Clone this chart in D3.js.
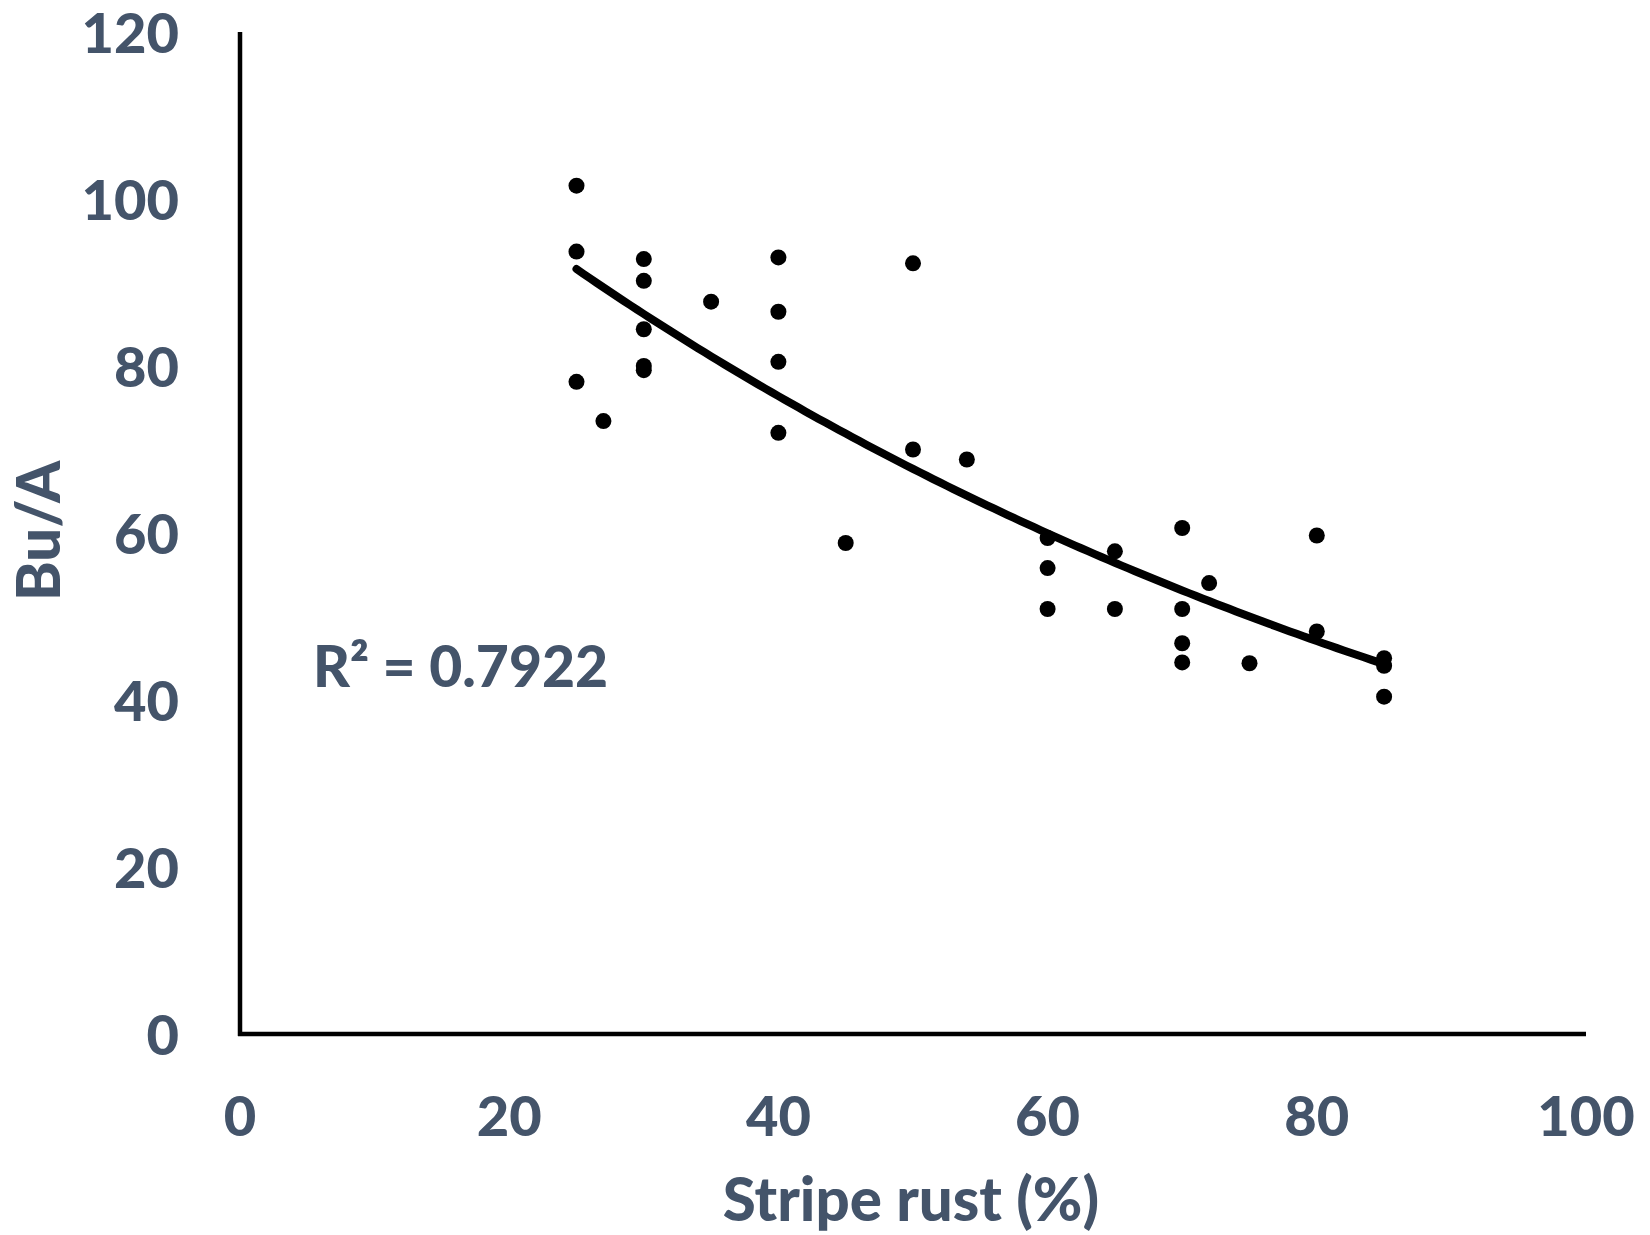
<!DOCTYPE html>
<html>
<head>
<meta charset="utf-8">
<script src="https://cdn.jsdelivr.net/npm/d3@7"></script>
<style>
  html, body { margin: 0; padding: 0; background: #ffffff; }
  svg { display: block; }
  text { font-family: Lato, "Open Sans", sans-serif; font-weight: 900; fill: #44546A; }
</style>
</head>
<body>
<svg id="chart" width="1650" height="1235"></svg>
<script>
// ---- Data ----
const stripeRust = [25, 25, 25, 27, 30, 30, 30, 30, 30, 35, 40, 40, 40, 40, 45, 50, 50, 54,
                    60, 60, 60, 65, 65, 70, 70, 70, 70, 72, 75, 80, 80, 85, 85, 85];
const buPerAcre  = [101.6, 93.7, 78.1, 73.4, 92.8, 90.2, 84.4, 80.0, 79.5, 87.7, 93.0, 86.5, 80.5, 72.0, 58.8, 92.3, 70.0, 68.8,
                    59.4, 55.8, 50.9, 57.8, 50.9, 60.6, 50.9, 46.8, 44.5, 54.0, 44.4, 59.7, 48.2, 45.0, 44.1, 40.4];
const xTicks = [0, 20, 40, 60, 80, 100];
const yTicks = [0, 20, 40, 60, 80, 100, 120];
// exponential trend y = a * exp(b * x), read from the drawn trendline
const trendA = 124.0;
const trendB = -0.01211;
const trendRange = [25, 85];
const rSquaredLabel = "R² = 0.7922";
const xTitle = "Stripe rust (%)";
const yTitle = "Bu/A";

// ---- Layout ----
const svg = d3.select("#chart");
const x = d3.scaleLinear().domain([0, 100]).range([240, 1586]);
const y = d3.scaleLinear().domain([0, 120]).range([1034, 32]);

// Axis lines
svg.append("line")
  .attr("x1", x(0)).attr("x2", x(0))
  .attr("y1", y(120)).attr("y2", y(0) + 2)
  .attr("stroke", "#000").attr("stroke-width", 4.5);
svg.append("line")
  .attr("x1", x(0) - 2).attr("x2", x(100))
  .attr("y1", y(0)).attr("y2", y(0))
  .attr("stroke", "#000").attr("stroke-width", 4.5);

// Y tick labels
svg.append("g").selectAll("text").data(yTicks).join("text")
  .attr("x", 179)
  .attr("y", d => y(d) + 1)
  .attr("dy", "0.36em")
  .attr("text-anchor", "end")
  .attr("font-size", 56)
  .text(d => d);

// X tick labels
svg.append("g").selectAll("text").data(xTicks).join("text")
  .attr("x", d => x(d))
  .attr("y", 1116)
  .attr("dy", "0.36em")
  .attr("text-anchor", "middle")
  .attr("font-size", 56)
  .text(d => d);

// Trendline
const trendPts = d3.range(trendRange[0], trendRange[1] + 0.001, 0.5).map(v => [v, trendA * Math.exp(trendB * v)]);
svg.append("path")
  .datum(trendPts)
  .attr("fill", "none")
  .attr("stroke", "#000")
  .attr("stroke-width", 8)
  .attr("stroke-linecap", "round")
  .attr("d", d3.line().x(d => x(d[0])).y(d => y(d[1])));

// Points
svg.append("g").selectAll("circle").data(stripeRust.map((v, i) => [v, buPerAcre[i]])).join("circle")
  .attr("cx", d => x(d[0]))
  .attr("cy", d => y(d[1]))
  .attr("r", 8)
  .attr("fill", "#000");

// R² label
svg.append("text")
  .attr("x", 313)
  .attr("y", 687)
  .attr("font-size", 57)
  .text(rSquaredLabel);

// Axis titles
svg.append("text")
  .attr("x", 911)
  .attr("y", 1199)
  .attr("dy", "0.36em")
  .attr("text-anchor", "middle")
  .attr("font-size", 60)
  .text(xTitle);

svg.append("text")
  .attr("transform", "translate(38,531) rotate(-90)")
  .attr("dy", "0.36em")
  .attr("text-anchor", "middle")
  .attr("font-size", 60)
  .text(yTitle);
</script>
</body>
</html>
